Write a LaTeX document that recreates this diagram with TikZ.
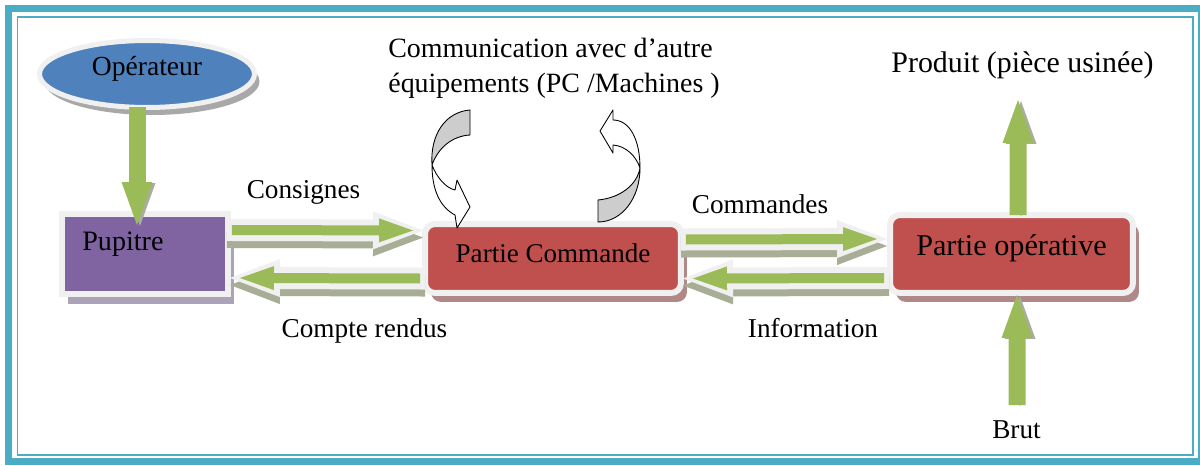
\documentclass[tikz,border=0pt]{standalone}
\usepackage{fontspec}
\setmainfont{Liberation Serif}
\usetikzlibrary{arrows.meta,shapes.geometric,shadows,calc}

\definecolor{frameteal}{HTML}{4BACC6}
\definecolor{opblue}{HTML}{4F81BD}
\definecolor{pupviolet}{HTML}{8064A2}
\definecolor{partred}{HTML}{C0504D}
\definecolor{flowgreen}{HTML}{9BBB59}
\definecolor{flowshade}{HTML}{A7AE95}
\definecolor{liftshade}{HTML}{A9AD9F}
\definecolor{pupshade}{HTML}{ACA3B8}
\definecolor{partshade}{HTML}{B08888}
\definecolor{opshade}{HTML}{A8A8A8}
\definecolor{curlgray}{HTML}{CDCDCD}

\tikzset{
  lbl/.style={font=\fontsize{15.5}{20}\selectfont, inner sep=0pt},
  bigtxt/.style={font=\fontsize{17}{21}\selectfont, inner sep=0pt},
  glowbox/.style={draw=black!6, line width=0.12cm, inner sep=0pt, outer sep=0pt},
  opnode/.style={glowbox, ellipse, fill=opblue, line width=0.1cm,
    minimum width=4.3cm, minimum height=1.34cm,
    font=\fontsize{15.7}{19}\selectfont, text depth=0.33cm,
    drop shadow={shadow xshift=0.1cm, shadow yshift=-0.15cm, fill=opshade, opacity=1}},
  pupnode/.style={glowbox, rectangle, fill=pupviolet,
    minimum width=3.32cm, minimum height=1.6cm,
    drop shadow={shadow xshift=0.12cm, shadow yshift=-0.2cm, fill=pupshade, opacity=1}},
  partnode/.style={glowbox, rectangle, rounded corners=0.2cm, fill=partred,
    drop shadow={shadow xshift=0.12cm, shadow yshift=-0.18cm, fill=partshade, opacity=1}},
  flow/.style={draw=flowgreen, line width=0.2cm,
    -{Triangle[width=0.48cm, length=0.68cm, line width=0pt]},
    preaction={draw=flowshade, line width=0.44cm, shorten >=-0.2cm, shorten <=-0.1cm,
      -{Triangle[width=0.76cm, length=1cm, line width=0pt]},
      transform canvas={shift={(0cm,-0.14cm)}}},
    preaction={draw=black!6, line width=0.44cm, shorten >=-0.2cm, shorten <=-0.1cm,
      -{Triangle[width=0.76cm, length=1cm, line width=0pt]}}},
  lift/.style={draw=flowgreen, line width=0.34cm,
    -{Triangle[width=0.62cm, length=0.86cm, line width=0pt]},
    preaction={draw=liftshade, transform canvas={shift={(0.06cm,-0.02cm)}},
      -{Triangle[width=0.62cm, length=0.86cm, line width=0pt]}}},
  curl/.style={draw=black, line width=0.5pt, line join=round}
}

\begin{document}
\begin{tikzpicture}[x=0.02cm, y=-0.02cm]
  \fill[white] (0,0) rectangle (1200,466);
  \useasboundingbox (0,0) rectangle (1200,466);
  % double frame
  \draw[frameteal, line width=0.14cm] (8.5,9) rectangle (1201,461.5);
  \draw[frameteal, line width=0.04cm] (17.5,17.5) rectangle (1193,455);

  \node[opnode] (operateur) at (147,74) {Opérateur};
  \node[pupnode, label={[lbl, font=\fontsize{16}{19}\selectfont, anchor=base west,
    xshift=0.4cm, yshift=-0.72cm]north west:Pupitre}] (pupitre) at (145,254) {};
  \node[partnode, minimum width=5.12cm, minimum height=1.38cm,
    font=\fontsize{15.4}{19}\selectfont, text depth=0.23cm] (commande) at (553,258.5) {Partie Commande};
  \node[partnode, minimum width=4.86cm, minimum height=1.56cm,
    font=\fontsize{17.2}{21}\selectfont, text depth=0.37cm] (operative) at (1011.5,254) {Partie opérative};

  \node[lbl, anchor=base] (consignes) at (303.5,198) {Consignes};
  \node[lbl, anchor=base] (comptes) at (364.5,337) {Compte rendus};
  \node[lbl, anchor=base] (commandes) at (760,213) {Commandes};
  \node[lbl, anchor=base] (information) at (813,337) {Information};
  \node[lbl, font=\fontsize{15.9}{20}\selectfont, anchor=west, align=left] (communication) at (388,68)
    {Communication avec d’autre\\équipements (PC /Machines )};
  \node[bigtxt, anchor=base] (produit) at (1022.5,72) {Produit (pièce usinée)};
  \node[lbl, anchor=base] (brut) at (1016.5,438) {Brut};
  \coordinate (prodtip) at (1018,100);
  \coordinate (brutfoot) at (1017,405);

  \draw[lift] ($(operateur.south)+(-10,0)$) -- ($(pupitre.north)+(-8,11)$);
  \draw[flow] ($(pupitre.east)+(4,-24)$) -- ($(commande.west)+(-12,-28)$);
  \draw[flow] ($(commande.west)+(-5,20)$) -- ($(pupitre.east)+(12,24)$);
  \draw[flow] ($(commande.east)+(5,-19)$) -- ($(operative.west)+(-13,-15)$);
  \draw[flow] ($(operative.west)+(-6,24)$) -- ($(commande.east)+(12,20)$);
  \draw[lift] ($(operative.north)+(6.5,0)$) -- (prodtip);
  \draw[lift] (brutfoot) -- ($(operative.south)+(5.5,2)$);

  % exchange loops above the command part
  \filldraw[curl, fill=curlgray] (470,110) .. controls (445,112) and (430,135) .. (432,165)
    .. controls (438,148) and (452,136) .. (470,135) -- cycle;
  \filldraw[curl, fill=white] (432,165) .. controls (432,190) and (440,207) .. (455,215)
    -- (457,228) -- (470,207) -- (457,180) -- (455,190)
    .. controls (446,188) and (437,178) .. (432,165) -- cycle;
  \filldraw[curl, fill=curlgray] (598,200) .. controls (620,198) and (637,185) .. (640,168)
    .. controls (640,198) and (622,222) .. (598,222) -- cycle;
  \filldraw[curl, fill=white] (640,168) .. controls (640,140) and (630,120) .. (613,120)
    -- (613,110) -- (600,131) -- (613,153) -- (613,145)
    .. controls (626,146) and (636,156) .. (640,168) -- cycle;
\end{tikzpicture}
\end{document}
